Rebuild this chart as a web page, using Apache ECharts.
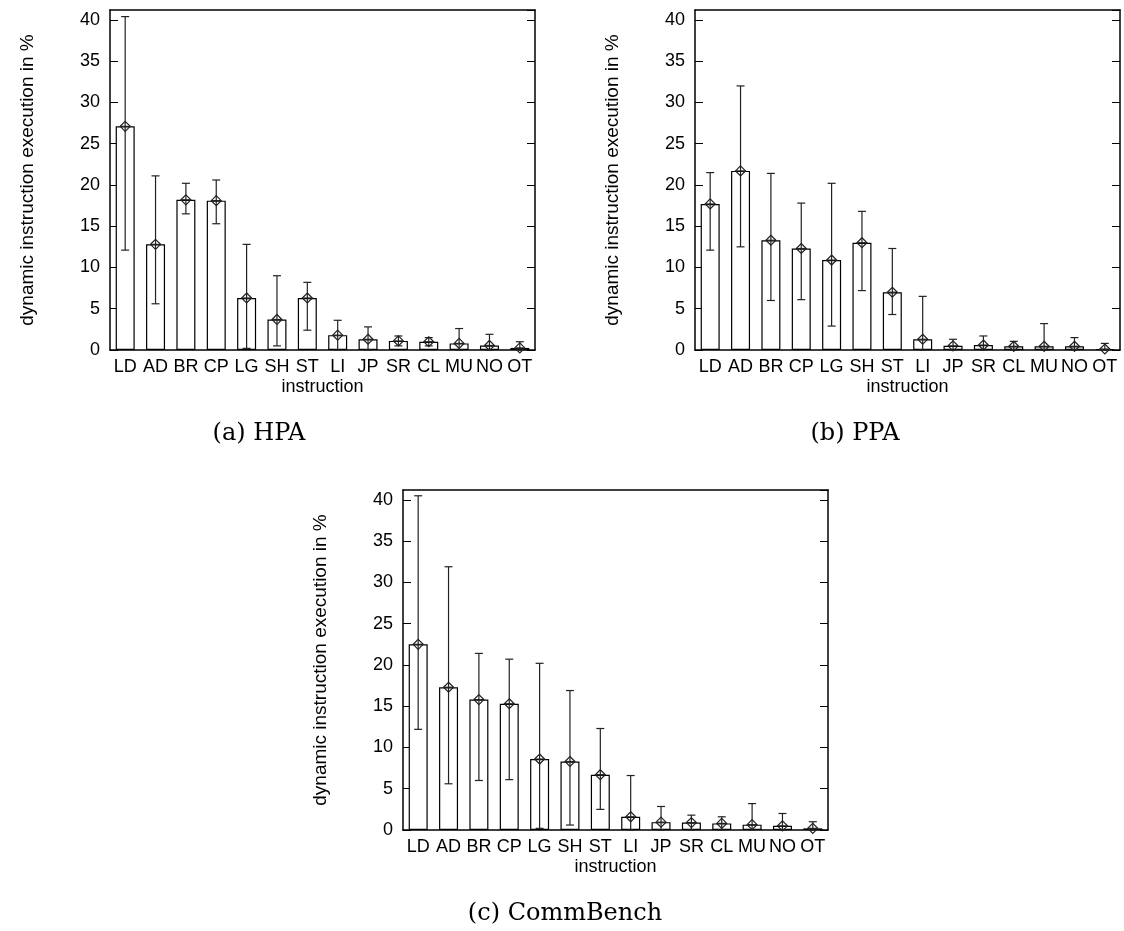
<!DOCTYPE html>
<html>
<head>
<meta charset="utf-8">
<title>dynamic instruction execution</title>
<script src="https://cdn.jsdelivr.net/npm/echarts@6/dist/echarts.min.js"></script>
<style>
  html, body { margin: 0; padding: 0; background: #fff; }
  #main { width: 1124px; height: 931px; }
</style>
</head>
<body>
<div id="main"></div>
<script>
// instruction classes
var categories = ['LD', 'AD', 'BR', 'CP', 'LG', 'SH', 'ST', 'LI', 'JP', 'SR', 'CL', 'MU', 'NO', 'OT'];
var yTicks = [0, 5, 10, 15, 20, 25, 30, 35, 40];

// (a) HPA
var hpaMean = [27.1, 12.8, 18.2, 18.1, 6.3, 3.7, 6.3, 1.8, 1.3, 1.1, 1.0, 0.8, 0.55, 0.25];
var hpaLow  = [12.1, 5.6, 16.5, 15.3, 0.2, 0.5, 2.4, 0, 0, 0.5, 0.5, 0, 0, 0];
var hpaHigh = [40.4, 21.1, 20.2, 20.6, 12.8, 9.0, 8.2, 3.6, 2.8, 1.7, 1.5, 2.6, 1.9, 1.0];

// (b) PPA
var ppaMean = [17.7, 21.7, 13.3, 12.3, 10.9, 13.0, 7.0, 1.3, 0.5, 0.6, 0.45, 0.45, 0.45, 0.12];
var ppaLow  = [12.1, 12.5, 6.0, 6.1, 2.9, 7.2, 4.3, 0, 0, 0, 0, 0, 0, 0];
var ppaHigh = [21.5, 32.0, 21.4, 17.8, 20.2, 16.8, 12.3, 6.5, 1.3, 1.7, 1.05, 3.2, 1.5, 0.8];

// (c) CommBench
var cbMean = [22.5, 17.3, 15.8, 15.3, 8.6, 8.3, 6.7, 1.6, 0.95, 0.9, 0.8, 0.65, 0.5, 0.2];
var cbLow  = [12.2, 5.6, 6.0, 6.1, 0.2, 0.6, 2.5, 0, 0, 0, 0, 0, 0, 0];
var cbHigh = [40.5, 31.9, 21.4, 20.7, 20.2, 16.9, 12.3, 6.6, 2.85, 1.8, 1.6, 3.2, 2.0, 1.0];

var panels = [
  { caption: '(a) HPA', mean: hpaMean, low: hpaLow, high: hpaHigh, left: 110, top: 10, capX: 259, capY: 434 },
  { caption: '(b) PPA', mean: ppaMean, low: ppaLow, high: ppaHigh, left: 695, top: 10, capX: 855, capY: 434 },
  { caption: '(c) CommBench', mean: cbMean, low: cbLow, high: cbHigh, left: 403, top: 490, capX: 565, capY: 914 }
];

var font = 'Liberation Sans, Arial, sans-serif';
var YMAX = 41.2;

function renderErr(params, api) {
  var x = api.value(0);
  var lo = api.coord([x, api.value(1)]);
  var hi = api.coord([x, api.value(2)]);
  var m = api.coord([x, api.value(3)]);
  var cap = 4, d = 5;
  var st = { stroke: '#222', lineWidth: 1.2, fill: null };
  return {
    type: 'group',
    children: [
      { type: 'line', shape: { x1: lo[0], y1: lo[1], x2: hi[0], y2: hi[1] }, style: st },
      { type: 'line', shape: { x1: hi[0] - cap, y1: hi[1], x2: hi[0] + cap, y2: hi[1] }, style: st },
      { type: 'line', shape: { x1: lo[0] - cap, y1: lo[1], x2: lo[0] + cap, y2: lo[1] }, style: st },
      { type: 'polygon', shape: { points: [[m[0], m[1] - d], [m[0] + d, m[1]], [m[0], m[1] + d], [m[0] - d, m[1]]] }, style: st },
      { type: 'line', shape: { x1: m[0] - d, y1: m[1], x2: m[0] + d, y2: m[1] }, style: st }
    ]
  };
}

var grid = [], xAxis = [], yAxis = [], series = [], graphic = [];

panels.forEach(function (p, i) {
  grid.push({ left: p.left, top: p.top, width: 425, height: 340, show: false });

  // bottom axis with labels, top axis as mirror
  xAxis.push({
    type: 'category', gridIndex: i, data: categories, position: 'bottom',
    name: 'instruction', nameLocation: 'middle', nameGap: 28,
    nameTextStyle: { fontFamily: font, fontSize: 18, color: '#000' },
    axisLine: { onZero: false, lineStyle: { color: '#000', width: 1.5 } },
    axisTick: { inside: true, alignWithLabel: true, length: 8, lineStyle: { color: '#000' } },
    axisLabel: { fontFamily: font, fontSize: 18, color: '#000', margin: 8, interval: 0 },
    splitLine: { show: false }
  });
  xAxis.push({
    type: 'category', gridIndex: i, data: categories, position: 'top',
    axisLine: { onZero: false, lineStyle: { color: '#000', width: 1.5 } },
    axisTick: { inside: true, alignWithLabel: true, length: 8, lineStyle: { color: '#000' } },
    axisLabel: { show: false },
    splitLine: { show: false }
  });

  yAxis.push({
    type: 'value', gridIndex: i, min: 0, max: YMAX, interval: 5, position: 'left',
    name: 'dynamic instruction execution in %', nameLocation: 'middle', nameGap: 73,
    nameTextStyle: { fontFamily: font, fontSize: 19, color: '#000' },
    axisLine: { show: true, onZero: false, lineStyle: { color: '#000', width: 1.5 } },
    axisTick: { show: true, inside: true, length: 8, lineStyle: { color: '#000' } },
    axisLabel: {
      fontFamily: font, fontSize: 18, color: '#000', margin: 10, showMaxLabel: false,
      formatter: function (v) { return yTicks.indexOf(v) >= 0 ? String(v) : ''; }
    },
    splitLine: { show: false }
  });
  yAxis.push({
    type: 'value', gridIndex: i, min: 0, max: YMAX, interval: 5, position: 'right',
    axisLine: { show: true, onZero: false, lineStyle: { color: '#000', width: 1.5 } },
    axisTick: { show: true, inside: true, length: 8, lineStyle: { color: '#000' } },
    axisLabel: { show: false },
    splitLine: { show: false }
  });

  series.push({
    type: 'bar', xAxisIndex: i * 2, yAxisIndex: i * 2,
    data: p.mean, barWidth: 19,
    itemStyle: { color: '#fff', borderColor: '#000', borderWidth: 1.2 },
    silent: true, z: 2
  });

  var err = p.mean.map(function (v, k) { return [k, p.low[k], p.high[k], v]; });
  series.push({
    type: 'custom', xAxisIndex: i * 2, yAxisIndex: i * 2,
    data: err, renderItem: renderErr, encode: { x: 0, y: [1, 2] },
    silent: true, z: 3
  });

  graphic.push({
    type: 'text', x: p.capX, y: p.capY,
    style: { text: p.caption, font: '24px "DejaVu Serif", serif', fill: '#000', align: 'center', verticalAlign: 'middle' }
  });
});

var chart = echarts.init(document.getElementById('main'));
chart.setOption({
  animation: false,
  backgroundColor: '#fff',
  grid: grid,
  xAxis: xAxis,
  yAxis: yAxis,
  series: series,
  graphic: graphic
});
</script>
</body>
</html>
